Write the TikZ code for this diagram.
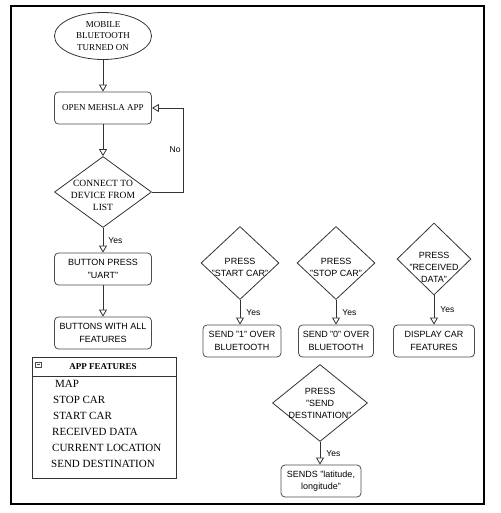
\documentclass[tikz,border=0pt]{standalone}
\usepackage{fontspec}
\setmainfont{Liberation Serif}
\setsansfont{Liberation Sans}
\usetikzlibrary{shapes.geometric,arrows.meta}

\tikzset{
  flow/.style={draw=black!80, line width=0.8pt, -{Triangle[open,length=7pt,width=8pt]}},
  procbox/.style={draw=black!70, line width=0.8pt, rounded corners=4pt, minimum height=32pt, inner sep=1pt, align=center, font=\sffamily\fontsize{9}{12.5}\selectfont},
  serifbox/.style={procbox, font=\fontsize{9}{12}\selectfont},
  decision/.style={draw=black!80, line width=0.8pt, diamond, inner sep=0pt},
  dtext/.style={align=center, font=\sffamily\fontsize{9}{12}\selectfont},
  stext/.style={align=center, font=\fontsize{9}{11.5}\selectfont},
  lbl/.style={font=\sffamily\fontsize{8.5}{10}\selectfont, inner sep=2pt},
  feat/.style={anchor=west, inner sep=0pt, font=\fontsize{11}{13}\selectfont}
}

\begin{document}
\begin{tikzpicture}[x=1pt, y=-1pt]
    \useasboundingbox (0,0) rectangle (500,513);
    % cadre
    \draw[line width=2.5pt] (11,6) rectangle (484,504);

    % colonne de gauche
    \node[draw=black!80, line width=0.8pt, ellipse, minimum width=97pt, minimum height=47pt, inner sep=0pt,
      label={[stext]center:{MOBILE\\BLUETOOTH\\TURNED ON}}] (bton) at (103,36) {};
    \node[serifbox, minimum width=97pt] (openapp) at (103,108) {OPEN MEHSLA APP};
    \node[decision, minimum width=97pt, minimum height=71pt,
      label={[stext, yshift=-3pt, font=\fontsize{9.5}{12}\selectfont]center:{CONNECT TO\\DEVICE FROM\\LIST}}] (connect) at (103,192) {};
    \node[procbox, minimum width=97pt] (uart) at (103,269) {BUTTON PRESS\\"UART"};
    \node[procbox, minimum width=97pt] (allbtn) at (103,333) {BUTTONS WITH ALL\\FEATURES};

    \draw[flow] (bton) -- (openapp);
    \draw[flow] (openapp) -- (connect);
    \draw[flow] (connect.east) -- ++(31,0) |- node[pos=0.25, left, lbl] {No} (openapp.east);
    \draw[flow] (connect) -- node[pos=0.5, right, lbl, xshift=3pt] {Yes} (uart);
    \draw[flow] (uart) -- (allbtn);

    % boite des fonctions
    \draw[black!80, line width=0.8pt] (32,357) rectangle (176,478);
    \draw[black!80, line width=0.8pt] (32,376) -- (176,376);
    \draw[black!70, line width=0.5pt] (35,362) rectangle (41,367);
    \draw[black!70, line width=0.5pt] (36.5,364.5) -- (39.5,364.5);
    \node[font=\bfseries\fontsize{9}{11}\selectfont] (feathead) at (103,367) {APP FEATURES};
    \node[feat] (fmap) at (55,384) {MAP};
    \node[feat] (fstop) at (53,400) {STOP CAR};
    \node[feat] (fstart) at (53,416) {START CAR};
    \node[feat] (frecv) at (52,432) {RECEIVED DATA};
    \node[feat] (floc) at (52,448) {CURRENT LOCATION};
    \node[feat] (fdest) at (51,464) {SEND DESTINATION};

    % boutons a droite
    \node[decision, minimum width=78pt, minimum height=73pt,
      label={[dtext, yshift=-4pt]center:{PRESS\\"START CAR"}}] (pstart) at (240,263) {};
    \node[decision, minimum width=78pt, minimum height=73pt,
      label={[dtext, yshift=-4pt]center:{PRESS\\"STOP CAR"}}] (pstop) at (336,263) {};
    \node[decision, minimum width=74pt, minimum height=72pt,
      label={[dtext, yshift=-8pt]center:{PRESS\\"RECEIVED\\DATA"}}] (precv) at (434,259) {};
    \node[procbox, minimum width=78pt] (send1) at (242,341) {SEND "1" OVER\\BLUETOOTH};
    \node[procbox, minimum width=75pt] (send0) at (336,341) {SEND "0" OVER\\BLUETOOTH};
    \node[procbox, minimum width=81pt] (display) at (434,341) {DISPLAY CAR\\FEATURES};

    \draw[flow] (pstart.south) -- node[right, lbl, xshift=4pt] {Yes} (pstart.south |- send1.north);
    \draw[flow] (pstop.south) -- node[right, lbl, xshift=4pt] {Yes} (pstop.south |- send0.north);
    \draw[flow] (precv.south) -- node[right, lbl, xshift=4pt] {Yes} (precv.south |- display.north);

    % destination
    \node[decision, minimum width=95pt, minimum height=77pt,
      label={[dtext]center:{PRESS\\"SEND\\DESTINATION"}}] (pdest) at (320,403) {};
    \node[procbox, minimum width=80pt] (latlong) at (321,481) {SENDS "latitude,\\longitude"};
    \draw[flow] (pdest.south) -- node[right, lbl, xshift=4pt] {Yes} (pdest.south |- latlong.north);
\end{tikzpicture}
\end{document}
